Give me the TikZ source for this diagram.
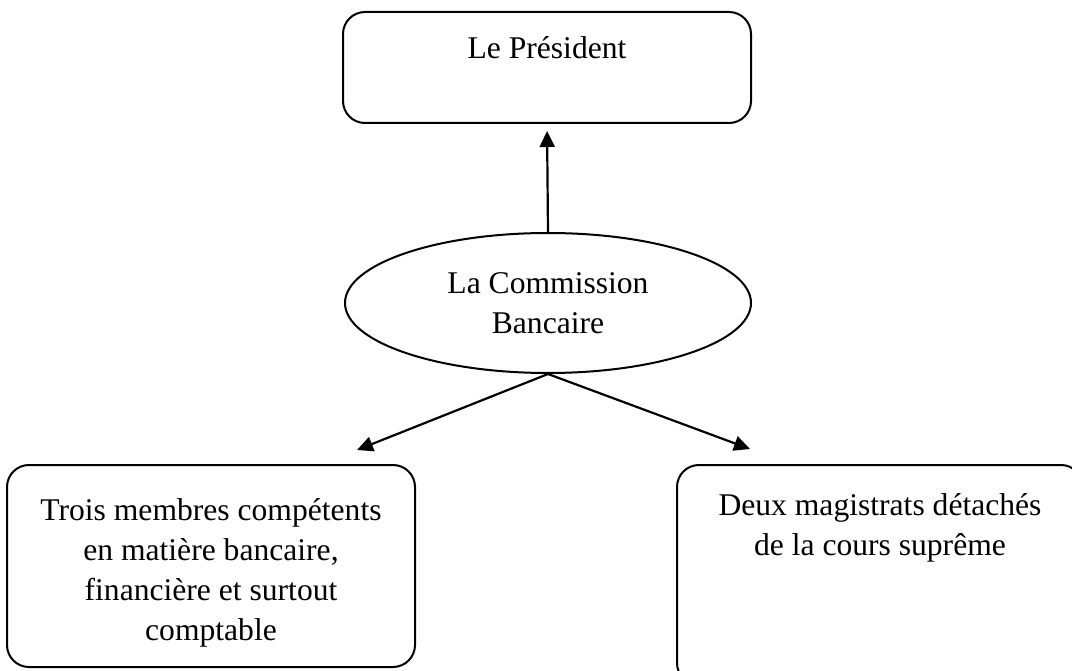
\documentclass[tikz,border=0pt]{standalone}
\usepackage{fontspec}
\setmainfont{Liberation Serif}
\usetikzlibrary{shapes.geometric,arrows.meta}
\begin{document}
\begin{tikzpicture}[x=1pt,y=-1pt,
  every node/.style={font=\fontsize{31.6}{40}\selectfont},
  boxnode/.style={draw,line width=2pt,rounded corners=22pt,inner sep=0pt},
  txt/.style={align=center,inner sep=0pt,anchor=north},
  arr/.style={line width=2.2pt,-{Triangle[length=16pt,width=15pt]}}]
\useasboundingbox (0,0) rectangle (1072,671);
\clip (0,0) rectangle (1072,671);
\fill[white] (0,0) rectangle (1072,671);
% top box
\node[boxnode,minimum width=408pt,minimum height=111pt] (pres) at (547,67.5) {};
\node[txt] (prest) at (547,36) {Le Président};
% ellipse
\node[draw,ellipse,line width=2pt,minimum width=406pt,minimum height=140pt,inner sep=0pt,align=center] (comm) at (548,303) {La Commission\\Bancaire};
% left box
\node[boxnode,minimum width=408pt,minimum height=202pt] (left) at (211,566) {};
\node[txt] (leftt) at (211,498) {Trois membres compétents\\en matière bancaire,\\financière et surtout\\comptable};
% right box
\node[boxnode,minimum width=406pt,minimum height=220pt] (right) at (880,575) {};
\node[txt] (rightt) at (880,493) {Deux magistrats détachés\\de la cours suprême};
% arrows
\coordinate (tl) at (357,450);
\coordinate (tr) at (750,449);
\draw[arr,shorten >=7pt] (comm.north) -- (pres.south);
\draw[arr] (comm.south) -- (tl);
\draw[arr] (comm.south) -- (tr);
\end{tikzpicture}
\end{document}
